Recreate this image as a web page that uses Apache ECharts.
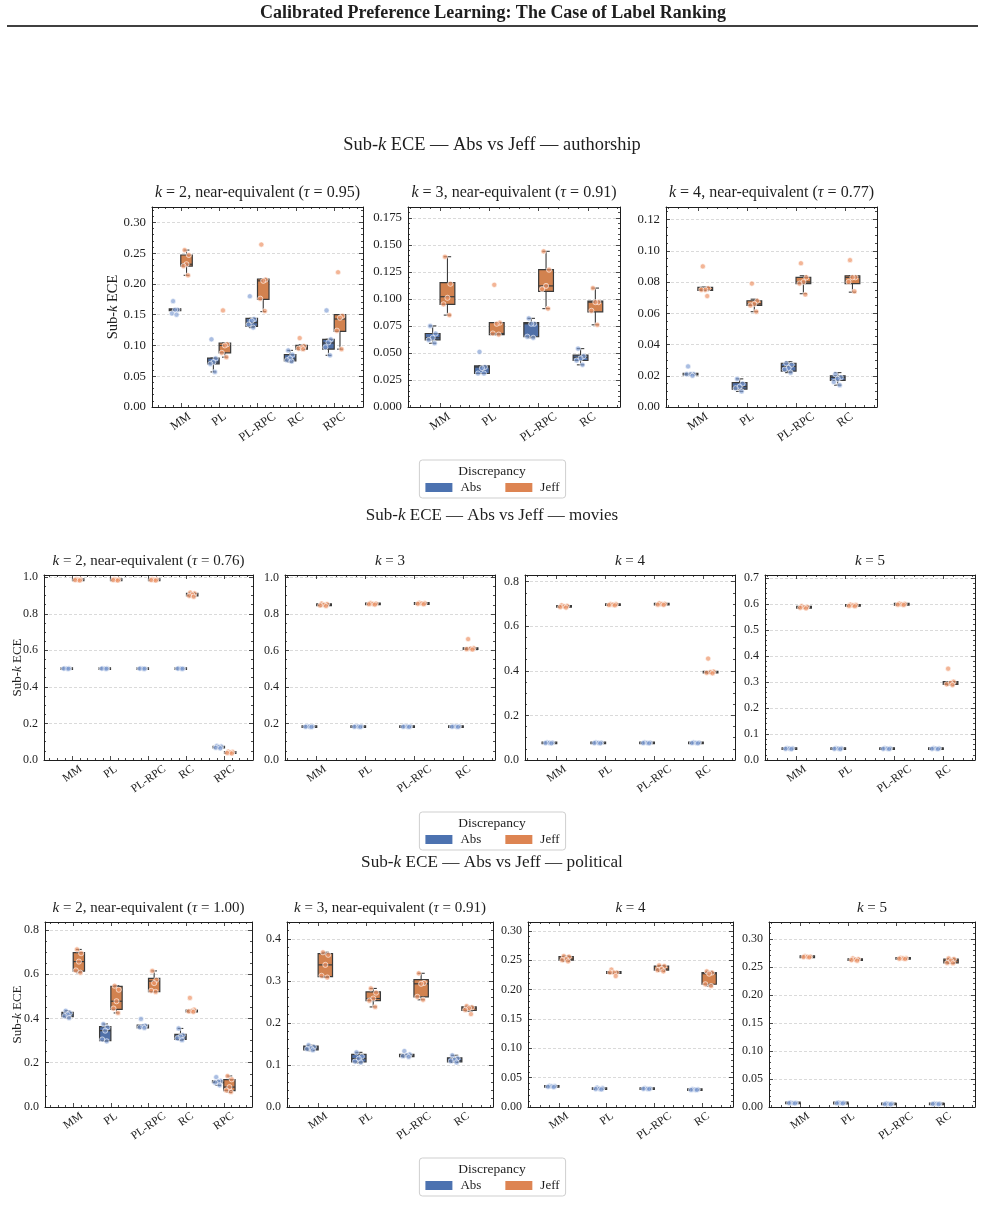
<!DOCTYPE html>
<html>
<head>
<meta charset="utf-8">
<script src="https://cdn.jsdelivr.net/npm/echarts@6/dist/echarts.min.js"></script>
<style>
  html, body { margin: 0; background: #fff; }
  #chart { width: 985px; height: 1214px; }
</style>
</head>
<body>
<div id="chart"></div>
<script>
// categories
const cats5 = ['MM', 'PL', 'PL-RPC', 'RC', 'RPC']
const cats4 = ['MM', 'PL', 'PL-RPC', 'RC']

// box stats per category: [whisker low, q1, median, q3, whisker high]
// pts: the individual runs drawn on top of the boxes

// authorship
const authK2AbsBox = [[0.157,0.1575,0.158,0.1585,0.159],[0.057,0.070,0.073,0.0795,0.0795],[0.129,0.131,0.137,0.144,0.144],[0.073,0.075,0.078,0.085,0.092],[0.084,0.094,0.104,0.110,0.110]]
const authK2AbsPts = [[0.172,0.158,0.158,0.152,0.150],[0.110,0.079,0.073,0.070,0.057],[0.180,0.143,0.140,0.134,0.129],[0.092,0.085,0.079,0.076,0.074],[0.157,0.110,0.105,0.097,0.084]]
const authK2JeffBox = [[0.214,0.229,0.232,0.247,0.255],[0.081,0.088,0.100,0.104,0.104],[0.155,0.175,0.205,0.208,0.208],[0.093,0.094,0.097,0.100,0.101],[0.094,0.123,0.143,0.150,0.150]]
const authK2JeffPts = [[0.255,0.247,0.232,0.229,0.214],[0.157,0.102,0.100,0.088,0.081],[0.264,0.207,0.205,0.176,0.156],[0.112,0.099,0.097,0.095,0.094],[0.219,0.148,0.145,0.124,0.094]]

const authK3AbsBox = [[0.059,0.062,0.064,0.068,0.075],[0.031,0.031,0.037,0.038,0.038],[0.064,0.065,0.077,0.078,0.082],[0.039,0.043,0.046,0.048,0.054]]
const authK3AbsPts = [[0.075,0.068,0.064,0.062,0.059],[0.051,0.037,0.036,0.031,0.031],[0.082,0.077,0.077,0.065,0.064],[0.054,0.047,0.045,0.043,0.039]]
const authK3JeffBox = [[0.085,0.095,0.102,0.115,0.139],[0.067,0.067,0.068,0.078,0.078],[0.091,0.107,0.112,0.127,0.144],[0.076,0.088,0.097,0.098,0.110]]
const authK3JeffPts = [[0.139,0.114,0.101,0.095,0.085],[0.113,0.078,0.077,0.068,0.067],[0.144,0.127,0.112,0.109,0.091],[0.110,0.097,0.097,0.089,0.076]]

const authK4AbsBox = [[0.0208,0.0209,0.021,0.0212,0.0213],[0.010,0.0114,0.013,0.0156,0.018],[0.022,0.023,0.026,0.028,0.029],[0.014,0.017,0.019,0.020,0.022]]
const authK4AbsPts = [[0.026,0.021,0.021,0.021,0.020],[0.018,0.015,0.013,0.012,0.010],[0.028,0.027,0.025,0.024,0.022],[0.021,0.019,0.018,0.016,0.014]]
const authK4JeffBox = [[0.0745,0.0746,0.075,0.0765,0.0767],[0.061,0.065,0.066,0.068,0.069],[0.0725,0.079,0.080,0.083,0.084],[0.0735,0.079,0.083,0.084,0.084]]
const authK4JeffPts = [[0.090,0.076,0.075,0.075,0.071],[0.079,0.068,0.066,0.065,0.061],[0.092,0.083,0.080,0.079,0.072],[0.094,0.083,0.083,0.080,0.074]]

// movies
const movK2AbsBox = [[0.499,0.4995,0.500,0.5005,0.501],[0.499,0.4995,0.500,0.5005,0.501],[0.499,0.4995,0.500,0.5005,0.501],[0.499,0.4995,0.500,0.5005,0.501],[0.064,0.067,0.071,0.074,0.078]]
const movK2AbsPts = [[0.502,0.501,0.500,0.500,0.499],[0.502,0.501,0.500,0.500,0.499],[0.501,0.500,0.500,0.500,0.499],[0.501,0.500,0.500,0.500,0.499],[0.078,0.074,0.071,0.067,0.064]]
const movK2JeffBox = [[0.982,0.984,0.986,0.988,0.990],[0.982,0.984,0.986,0.988,0.990],[0.982,0.984,0.986,0.988,0.990],[0.893,0.898,0.905,0.911,0.916],[0.036,0.038,0.041,0.044,0.046]]
const movK2JeffPts = [[0.990,0.988,0.986,0.984,0.982],[0.990,0.988,0.986,0.984,0.982],[0.990,0.988,0.986,0.984,0.982],[0.916,0.911,0.905,0.898,0.893],[0.046,0.044,0.041,0.038,0.036]]

const movK3AbsBox = [[0.181,0.182,0.183,0.184,0.185],[0.181,0.182,0.183,0.184,0.185],[0.181,0.182,0.183,0.184,0.185],[0.181,0.182,0.183,0.184,0.185]]
const movK3AbsPts = [[0.185,0.184,0.183,0.182,0.181],[0.185,0.184,0.183,0.182,0.181],[0.185,0.184,0.183,0.182,0.181],[0.185,0.184,0.183,0.182,0.181]]
const movK3JeffBox = [[0.843,0.846,0.850,0.854,0.857],[0.851,0.853,0.855,0.857,0.859],[0.853,0.855,0.857,0.859,0.861],[0.605,0.607,0.610,0.613,0.613]]
const movK3JeffPts = [[0.857,0.854,0.850,0.846,0.843],[0.859,0.857,0.855,0.853,0.851],[0.861,0.859,0.857,0.855,0.853],[0.662,0.613,0.610,0.607,0.605]]

const movK4AbsBox = [[0.075,0.076,0.077,0.078,0.079],[0.075,0.076,0.077,0.078,0.079],[0.075,0.076,0.077,0.078,0.079],[0.075,0.076,0.077,0.078,0.079]]
const movK4AbsPts = [[0.079,0.078,0.077,0.076,0.075],[0.079,0.078,0.077,0.076,0.075],[0.079,0.078,0.077,0.076,0.075],[0.079,0.078,0.077,0.076,0.075]]
const movK4JeffBox = [[0.684,0.686,0.689,0.692,0.694],[0.694,0.695,0.697,0.699,0.700],[0.696,0.697,0.699,0.701,0.703],[0.389,0.391,0.394,0.397,0.397]]
const movK4JeffPts = [[0.694,0.692,0.689,0.686,0.684],[0.700,0.699,0.697,0.695,0.694],[0.703,0.701,0.699,0.697,0.696],[0.455,0.397,0.394,0.391,0.389]]

const movK5AbsBox = [[0.042,0.043,0.044,0.045,0.046],[0.042,0.043,0.044,0.045,0.046],[0.042,0.043,0.044,0.045,0.046],[0.042,0.043,0.044,0.045,0.046]]
const movK5AbsPts = [[0.046,0.045,0.044,0.043,0.042],[0.046,0.045,0.044,0.043,0.042],[0.046,0.045,0.044,0.043,0.042],[0.046,0.045,0.044,0.043,0.042]]
const movK5JeffBox = [[0.583,0.585,0.587,0.589,0.591],[0.591,0.592,0.594,0.596,0.597],[0.596,0.597,0.598,0.600,0.601],[0.288,0.291,0.296,0.301,0.301]]
const movK5JeffPts = [[0.591,0.589,0.587,0.585,0.583],[0.597,0.596,0.594,0.592,0.591],[0.601,0.600,0.598,0.597,0.596],[0.351,0.301,0.296,0.291,0.288]]

// political
const polK2AbsBox = [[0.402,0.408,0.418,0.428,0.435],[0.297,0.300,0.345,0.363,0.375],[0.357,0.358,0.365,0.370,0.370],[0.302,0.306,0.318,0.328,0.355],[0.098,0.110,0.115,0.118,0.118]]
const polK2AbsPts = [[0.435,0.425,0.418,0.410,0.402],[0.375,0.360,0.345,0.305,0.297],[0.398,0.368,0.365,0.360,0.357],[0.355,0.325,0.318,0.310,0.302],[0.135,0.118,0.115,0.110,0.098]]
const polK2JeffBox = [[0.607,0.614,0.657,0.698,0.712],[0.425,0.441,0.478,0.545,0.548],[0.520,0.521,0.569,0.581,0.615],[0.427,0.430,0.435,0.438,0.440],[0.066,0.074,0.090,0.124,0.140]]
const polK2JeffPts = [[0.712,0.695,0.657,0.617,0.607],[0.548,0.530,0.478,0.445,0.425],[0.615,0.575,0.560,0.525,0.520],[0.493,0.440,0.435,0.432,0.430],[0.140,0.125,0.090,0.075,0.068]]

const polK3AbsBox = [[0.134,0.136,0.140,0.145,0.147],[0.105,0.107,0.115,0.125,0.130],[0.119,0.120,0.122,0.125,0.125],[0.106,0.107,0.110,0.117,0.123]]
const polK3AbsPts = [[0.147,0.143,0.140,0.138,0.135],[0.130,0.120,0.115,0.108,0.106],[0.133,0.125,0.123,0.121,0.119],[0.123,0.116,0.112,0.109,0.106]]
const polK3JeffBox = [[0.308,0.310,0.338,0.365,0.368],[0.238,0.253,0.258,0.274,0.282],[0.255,0.262,0.293,0.303,0.318],[0.228,0.230,0.235,0.238,0.240]]
const polK3JeffPts = [[0.368,0.362,0.338,0.312,0.308],[0.282,0.272,0.258,0.253,0.238],[0.318,0.295,0.293,0.262,0.255],[0.240,0.237,0.235,0.231,0.221]]

const polK4AbsBox = [[0.034,0.0345,0.035,0.0355,0.036],[0.030,0.0305,0.031,0.032,0.033],[0.0305,0.031,0.031,0.0315,0.032],[0.029,0.029,0.0295,0.030,0.0305]]
const polK4AbsPts = [[0.036,0.0355,0.035,0.0345,0.034],[0.033,0.032,0.031,0.0305,0.030],[0.032,0.0315,0.031,0.031,0.0305],[0.0305,0.030,0.0295,0.029,0.029]]
const polK4JeffBox = [[0.248,0.250,0.252,0.256,0.257],[0.229,0.229,0.229,0.229,0.229],[0.231,0.233,0.235,0.240,0.241],[0.206,0.209,0.227,0.229,0.231]]
const polK4JeffPts = [[0.257,0.256,0.252,0.250,0.248],[0.234,0.229,0.229,0.229,0.223],[0.241,0.240,0.235,0.233,0.231],[0.231,0.229,0.227,0.209,0.206]]

const polK5AbsBox = [[0.0065,0.007,0.007,0.0075,0.008],[0.0065,0.0068,0.007,0.0075,0.008],[0.0048,0.005,0.0055,0.006,0.0065],[0.005,0.0055,0.0058,0.006,0.0065]]
const polK5AbsPts = [[0.008,0.0075,0.007,0.007,0.0065],[0.008,0.0075,0.007,0.0068,0.0065],[0.0065,0.006,0.0055,0.005,0.0048],[0.0065,0.006,0.0058,0.0055,0.005]]
const polK5JeffBox = [[0.267,0.2675,0.268,0.2685,0.269],[0.261,0.262,0.263,0.264,0.265],[0.264,0.2645,0.265,0.2655,0.266],[0.2565,0.257,0.261,0.264,0.265]]
const polK5JeffPts = [[0.269,0.2685,0.268,0.2675,0.267],[0.265,0.264,0.263,0.262,0.261],[0.266,0.2655,0.265,0.2645,0.264],[0.265,0.264,0.261,0.257,0.2565]]

// ---- styling ----
const ink = '#1e1e1e'
const serif = 'Liberation Serif'
const boxFill = { Abs: '#5070a8', Jeff: '#d2824f' }
const legendColor = { Abs: '#4C72B0', Jeff: '#DD8452' }
const dotFill = { Abs: 'rgba(125,155,210,0.65)', Jeff: 'rgba(238,150,105,0.7)' }
const boxEdge = '#3a3a3a'
const BOX_W = 0.3
const BOX_OFF = 0.15
const JITTER = [-0.05, 0.06, 0.0, -0.08, 0.04]
const ROT = 35

const ylabel = 'Sub-{i|k} ECE'

// fs = font scale of the section (the authorship figure is printed a bit larger)
const panels = [
  { left: 152, top: 207, width: 211, height: 200, fs: 1.07, cats: cats5, yMax: 0.325, step: 0.05, dec: 2, ndiv: 5, nameGap: 32,
    title: '{i|k} = 2, near-equivalent ({i|τ} = 0.95)', Abs: [authK2AbsBox, authK2AbsPts], Jeff: [authK2JeffBox, authK2JeffPts] },
  { left: 408, top: 207, width: 212, height: 200, fs: 1.07, cats: cats4, yMax: 0.185, step: 0.025, dec: 3, ndiv: 5,
    title: '{i|k} = 3, near-equivalent ({i|τ} = 0.91)', Abs: [authK3AbsBox, authK3AbsPts], Jeff: [authK3JeffBox, authK3JeffPts] },
  { left: 666, top: 207, width: 211, height: 200, fs: 1.07, cats: cats4, yMax: 0.128, step: 0.02, dec: 2, ndiv: 4,
    title: '{i|k} = 4, near-equivalent ({i|τ} = 0.77)', Abs: [authK4AbsBox, authK4AbsPts], Jeff: [authK4JeffBox, authK4JeffPts] },

  { left: 44, top: 575, width: 209, height: 185, fs: 1, cats: cats5, yMax: 1.012, step: 0.2, dec: 1, ndiv: 4, nameGap: 20,
    title: '{i|k} = 2, near-equivalent ({i|τ} = 0.76)', Abs: [movK2AbsBox, movK2AbsPts], Jeff: [movK2JeffBox, movK2JeffPts] },
  { left: 285, top: 575, width: 210, height: 185, fs: 1, cats: cats4, yMax: 1.013, step: 0.2, dec: 1, ndiv: 4,
    title: '{i|k} = 3', Abs: [movK3AbsBox, movK3AbsPts], Jeff: [movK3JeffBox, movK3JeffPts] },
  { left: 525, top: 575, width: 210, height: 185, fs: 1, cats: cats4, yMax: 0.83, step: 0.2, dec: 1, ndiv: 4,
    title: '{i|k} = 4', Abs: [movK4AbsBox, movK4AbsPts], Jeff: [movK4JeffBox, movK4JeffPts] },
  { left: 765, top: 575, width: 210, height: 185, fs: 1, cats: cats4, yMax: 0.711, step: 0.1, dec: 1, ndiv: 5,
    title: '{i|k} = 5', Abs: [movK5AbsBox, movK5AbsPts], Jeff: [movK5JeffBox, movK5JeffPts] },

  { left: 45, top: 922, width: 207, height: 185, fs: 1, cats: cats5, yMax: 0.836, step: 0.2, dec: 1, ndiv: 4, nameGap: 21,
    title: '{i|k} = 2, near-equivalent ({i|τ} = 1.00)', Abs: [polK2AbsBox, polK2AbsPts], Jeff: [polK2JeffBox, polK2JeffPts] },
  { left: 287, top: 922, width: 206, height: 185, fs: 1, cats: cats4, yMax: 0.44, step: 0.1, dec: 1, ndiv: 5,
    title: '{i|k} = 3, near-equivalent ({i|τ} = 0.91)', Abs: [polK3AbsBox, polK3AbsPts], Jeff: [polK3JeffBox, polK3JeffPts] },
  { left: 528, top: 922, width: 205, height: 185, fs: 1, cats: cats4, yMax: 0.315, step: 0.05, dec: 2, ndiv: 5,
    title: '{i|k} = 4', Abs: [polK4AbsBox, polK4AbsPts], Jeff: [polK4JeffBox, polK4JeffPts] },
  { left: 769, top: 922, width: 206, height: 185, fs: 1, cats: cats4, yMax: 0.33, step: 0.05, dec: 2, ndiv: 5,
    title: '{i|k} = 5', Abs: [polK5AbsBox, polK5AbsPts], Jeff: [polK5JeffBox, polK5JeffPts] }
]

const sections = [
  { title: 'Sub-{i|k} ECE — Abs vs Jeff — authorship', y: 145, size: 18.4, legendTop: 460 },
  { title: 'Sub-{i|k} ECE — Abs vs Jeff — movies', y: 516, size: 17, legendTop: 812 },
  { title: 'Sub-{i|k} ECE — Abs vs Jeff — political', y: 862, size: 17.2, legendTop: 1158 }
]

function boxRenderer(side, fill) {
  return function (params, api) {
    const i = api.value(0)
    const unit = api.size([1, 0])[0]
    const cx = api.coord([i + side * BOX_OFF, 0])[0]
    const half = unit * BOX_W / 2
    const y = k => api.coord([i, api.value(k)])[1]
    const lo = y(1), q1 = y(2), med = y(3), q3 = y(4), hi = y(5)
    const seg = (x1, y1, x2, y2, w) => ({ type: 'line', shape: { x1, y1, x2, y2 }, style: { stroke: boxEdge, lineWidth: w || 1.1 } })
    const h = Math.max(q1 - q3, 1.6)
    return {
      type: 'group',
      children: [
        seg(cx, q1, cx, lo), seg(cx, q3, cx, hi),
        seg(cx - half / 2, lo, cx + half / 2, lo), seg(cx - half / 2, hi, cx + half / 2, hi),
        { type: 'rect', shape: { x: cx - half, y: (q1 + q3) / 2 - h / 2, width: 2 * half, height: h },
          style: { fill, stroke: boxEdge, lineWidth: 1.2 } },
        seg(cx - half, med, cx + half, med, 1.2)
      ]
    }
  }
}

function dotRenderer(side, fill) {
  return function (params, api) {
    const i = api.value(0), j = api.value(2)
    const pt = api.coord([i + side * BOX_OFF + JITTER[j % JITTER.length], api.value(1)])
    return { type: 'circle', shape: { cx: pt[0], cy: pt[1], r: 2.6 }, style: { fill, stroke: '#fff', lineWidth: 0.6 } }
  }
}

// rotated tick labels centred under their tick (like matplotlib's ha='center'):
// push each label straight down by half of its rotated height using rich padding
const measure = document.createElement('canvas').getContext('2d')
function tickRich(cats, size) {
  measure.font = size + 'px "' + serif + '"'
  const s = Math.sin(ROT * Math.PI / 180), c = Math.cos(ROT * Math.PI / 180)
  const out = {}
  cats.forEach((name, i) => {
    const w = measure.measureText(name).width
    const down = (w * s + size * 0.85 * c) / 2
    out['l' + i] = { fontFamily: serif, fontSize: size, color: ink, padding: [2 * down * c, 2 * down * s, 0, 0] }
  })
  return out
}

const rich = size => ({ i: { fontStyle: 'italic', fontFamily: serif, fontSize: size, color: ink } })

const option = { animation: false, backgroundColor: '#fff', grid: [], xAxis: [], yAxis: [], series: [], legend: [], graphic: [] }

function addText(text, x, y, size, weight) {
  option.graphic.push({
    type: 'text', x, y, silent: true,
    style: { text, fontFamily: serif, fontSize: size, fontWeight: weight || 'normal', fill: ink,
      align: 'center', verticalAlign: 'middle', textAlign: 'center', textVerticalAlign: 'middle', rich: rich(size) }
  })
}

panels.forEach((p, g) => {
  option.grid.push({ left: p.left, top: p.top, width: p.width, height: p.height })
  const n = p.cats.length
  const pad = n === 5 ? 0.75 : 0.65
  const xMin = -pad, xMax = n - 1 + pad
  const xMajor = p.cats.map((c, i) => i)
  const xMinor = []
  for (let k = Math.ceil(xMin * 5); k <= Math.floor(xMax * 5); k++) if (k % 5) xMinor.push(k / 5)
  const yMajor = []
  for (let k = 0; k * p.step <= p.yMax + 1e-9; k++) yMajor.push(+(k * p.step).toFixed(6))
  const yMinor = []
  const ms = p.step / p.ndiv
  for (let k = 1; k * ms < p.yMax; k++) if (k % p.ndiv) yMinor.push(+(k * ms).toFixed(6))

  const xi = option.xAxis.length, yi = option.yAxis.length
  const labelStyle = { fontFamily: serif, fontSize: 12 * p.fs, color: ink }
  const xFont = 11.5 * p.fs

  const xAx = (position, ticks, len, withLine, labels) => ({
    type: 'value', gridIndex: g, position, min: xMin, max: xMax,
    axisLine: { show: withLine, onZero: false, lineStyle: { color: ink, width: 1 } },
    axisTick: { show: true, inside: true, length: len, customValues: ticks, lineStyle: { color: ink, width: 0.8 } },
    axisLabel: labels
      ? { customValues: xMajor, rotate: ROT, margin: 4, align: 'center', verticalAlign: 'middle',
          fontFamily: serif, fontSize: xFont, color: ink, rich: tickRich(p.cats, xFont),
          formatter: v => '{l' + Math.round(v) + '|' + p.cats[Math.round(v)] + '}' }
      : { show: false },
    splitLine: { show: false }
  })
  option.xAxis.push(xAx('bottom', xMajor, 4, true, true), xAx('bottom', xMinor, 2, false, false),
    xAx('top', xMajor, 4, true, false), xAx('top', xMinor, 2, false, false))

  const yAx = (position, ticks, len, withLine, main) => {
    const ax = {
      type: 'value', gridIndex: g, position, min: 0, max: p.yMax,
      axisLine: { show: withLine, onZero: false, lineStyle: { color: ink, width: 1 } },
      axisTick: { show: true, inside: true, length: len, customValues: ticks, lineStyle: { color: ink, width: 0.8 } },
      axisLabel: { show: false },
      splitLine: { show: false }
    }
    if (main) {
      ax.interval = p.step
      ax.axisLabel = Object.assign({ customValues: yMajor, formatter: v => v.toFixed(p.dec), margin: 6 }, labelStyle)
      ax.splitLine = { show: true, lineStyle: { color: '#d0d0d0', type: [3, 2], width: 0.8 } }
      if (p.nameGap) {
        const ns = 13 * p.fs * (p.fs > 1 ? 1.04 : 1)
        Object.assign(ax, { name: ylabel, nameLocation: 'middle', nameGap: p.nameGap, nameRotate: 90, nameMoveOverlap: false,
          nameTextStyle: { fontFamily: serif, fontSize: ns, color: ink, rich: rich(ns) } })
      }
    }
    return ax
  }
  option.yAxis.push(yAx('left', yMajor, 4, true, true), yAx('left', yMinor, 2, false, false),
    yAx('right', yMajor, 4, true, false), yAx('right', yMinor, 2, false, false))

  ;[['Abs', -1], ['Jeff', 1]].forEach(([key, side]) => {
    const [box, pts] = p[key]
    option.series.push({
      type: 'custom', name: key, xAxisIndex: xi, yAxisIndex: yi, z: 2, silent: true,
      itemStyle: { color: legendColor[key] },
      renderItem: boxRenderer(side, boxFill[key]),
      encode: { x: 0, y: [1, 2, 3, 4, 5] },
      data: box.map((b, i) => [i].concat(b))
    })
    const dots = []
    pts.forEach((list, i) => list.forEach((v, j) => dots.push([i, v, j])))
    option.series.push({
      type: 'custom', name: key + ' runs', xAxisIndex: xi, yAxisIndex: yi, z: 3, silent: true,
      itemStyle: { color: dotFill[key] },
      renderItem: dotRenderer(side, dotFill[key]),
      encode: { x: 0, y: 1 },
      data: dots
    })
  })

  addText(p.title, p.left + p.width / 2, p.top - 14, 15 * p.fs)
})

sections.forEach(s => {
  addText(s.title, 492, s.y, s.size)
  option.legend.push({
    left: 'center', top: s.legendTop, selectedMode: false,
    data: [{ name: 'Abs', icon: 'rect' }, { name: 'Jeff', icon: 'rect' }],
    itemWidth: 27, itemHeight: 9, itemGap: 24,
    padding: [21, 6, 4, 6], borderColor: '#cfcfcf', borderWidth: 1, borderRadius: 3,
    textStyle: { fontFamily: serif, fontSize: 13, color: ink, padding: [0, 0, 0, 3] }
  })
  addText('Discrepancy', 492, s.legendTop + 11, 13.5)
})

// page header
addText('Calibrated Preference Learning: The Case of Label Ranking', 493, 13, 18, 'bold')
option.graphic.push({ type: 'line', silent: true, shape: { x1: 7, y1: 26, x2: 978, y2: 26 }, style: { stroke: '#000', lineWidth: 1.5 } })

const chart = echarts.init(document.getElementById('chart'))
chart.setOption(option)
</script>
</body>
</html>
